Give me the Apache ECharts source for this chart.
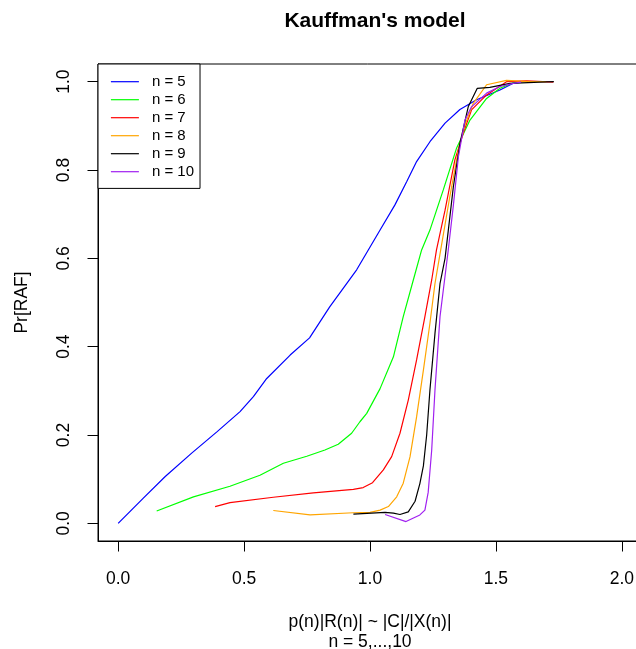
<!DOCTYPE html>
<html>
<head>
<meta charset="utf-8">
<script src="https://cdn.jsdelivr.net/npm/echarts/dist/echarts.min.js"></script>
<style>
  html, body { margin: 0; padding: 0; background: #fff; }
  #main { width: 636px; height: 649px; }
</style>
</head>
<body>
<div id="main"></div>
<script>
// curves, [x, Pr] pairs
var n5 = [[0, 0], [0.1, 0.057], [0.187, 0.106], [0.292, 0.159], [0.392, 0.207], [0.484, 0.253],
    [0.537, 0.287], [0.59, 0.328], [0.683, 0.381], [0.76, 0.42], [0.84, 0.49], [0.947, 0.574],
    [1.04, 0.664], [1.099, 0.721], [1.146, 0.774], [1.185, 0.819], [1.238, 0.864], [1.298, 0.906],
    [1.357, 0.937], [1.423, 0.959], [1.516, 0.981], [1.567, 0.996], [1.6, 0.999]];
var n6 = [[0.153, 0.028], [0.299, 0.06], [0.444, 0.084], [0.563, 0.109], [0.656, 0.136], [0.749, 0.152],
    [0.821, 0.166], [0.874, 0.179], [0.927, 0.204], [0.96, 0.23], [0.987, 0.249], [1.04, 0.305],
    [1.093, 0.377], [1.132, 0.468], [1.172, 0.551], [1.205, 0.619], [1.238, 0.664], [1.291, 0.755],
    [1.344, 0.85], [1.397, 0.913], [1.463, 0.962], [1.516, 0.985], [1.567, 0.997], [1.6, 0.999]];
var n7 = [[0.385, 0.038], [0.444, 0.047], [0.616, 0.059], [0.775, 0.069], [0.934, 0.077], [0.973, 0.081],
    [1.01, 0.092], [1.053, 0.121], [1.086, 0.151], [1.119, 0.204], [1.152, 0.279], [1.185, 0.37],
    [1.218, 0.468], [1.245, 0.551], [1.264, 0.619], [1.298, 0.709], [1.337, 0.823], [1.37, 0.883],
    [1.403, 0.936], [1.463, 0.97], [1.542, 1.0], [1.622, 1.002], [1.728, 0.999]];
var n8 = [[0.616, 0.029], [0.762, 0.019], [0.934, 0.024], [1.0, 0.025], [1.04, 0.03], [1.073, 0.038],
    [1.106, 0.06], [1.132, 0.091], [1.159, 0.151], [1.185, 0.241], [1.212, 0.347], [1.238, 0.453],
    [1.258, 0.543], [1.275, 0.6], [1.317, 0.74], [1.351, 0.845], [1.377, 0.902], [1.41, 0.951],
    [1.463, 0.993], [1.542, 1.003], [1.635, 1.0], [1.7, 1.0]];
var n9 = [[0.934, 0.021], [1.06, 0.025], [1.093, 0.023], [1.119, 0.02], [1.152, 0.026], [1.179, 0.05],
    [1.198, 0.09], [1.212, 0.13], [1.225, 0.2], [1.238, 0.302], [1.258, 0.43], [1.278, 0.543],
    [1.298, 0.6], [1.331, 0.762], [1.357, 0.86], [1.39, 0.943], [1.426, 0.985], [1.476, 0.987],
    [1.556, 0.996], [1.675, 0.999], [1.73, 1.0]];
var n10 = [[1.06, 0.02], [1.143, 0.004], [1.198, 0.019], [1.218, 0.03], [1.231, 0.07], [1.245, 0.166],
    [1.258, 0.302], [1.278, 0.468], [1.298, 0.56], [1.311, 0.62], [1.331, 0.72], [1.351, 0.83],
    [1.377, 0.913], [1.403, 0.943], [1.463, 0.974], [1.516, 0.989], [1.569, 0.996], [1.6, 0.999]];

var seriesNames = ['n = 5', 'n = 6', 'n = 7', 'n = 8', 'n = 9', 'n = 10'];
var seriesColors = ['#0000ff', '#00ff00', '#ff0000', '#ffa500', '#000000', '#a020f0'];
var xTicks = [0, 0.5, 1.0, 1.5, 2.0];
var yTicks = [0, 0.2, 0.4, 0.6, 0.8, 1.0];

var font = 'Liberation Sans, Arial, Helvetica, sans-serif';
var curves = [n5, n6, n7, n8, n9, n10];

var myChart = echarts.init(document.getElementById('main'));
var option = {
    animation: false,
    backgroundColor: '#fff',
    title: {
        text: "Kauffman's model",
        left: 370,
        top: 6,
        textAlign: 'center',
        textStyle: {
            fontFamily: font,
            fontSize: 21,
            fontWeight: 'bold',
            color: '#000'
        }
    },
    legend: {
        data: seriesNames,
        orient: 'vertical',
        left: 98,
        top: 64,
        padding: [10.2, 6, 9.2, 12.3],
        itemWidth: 28,
        itemHeight: 14,
        itemGap: 3,
        borderColor: '#000',
        borderWidth: 1,
        backgroundColor: '#fff',
        itemStyle: { opacity: 0 },   // hide the circle, keep the line
        lineStyle: { width: 1.2 },
        textStyle: {
            fontFamily: font,
            fontSize: 15,
            lineHeight: 14,
            color: '#000',
            padding: [0, 0, 0, 8]
        }
    },
    grid: {
        show: true,
        left: 98,
        top: 64,
        width: 544,
        height: 477,
        outerBoundsMode: 'none',
        borderColor: '#000',
        borderWidth: 1,
        backgroundColor: 'transparent'
    },
    xAxis: {
        type: 'value',
        min: -0.08,
        max: 2.08,
        name: 'p(n)|R(n)| ~ |C|/|X(n)|\nn = 5,...,10',
        nameLocation: 'middle',
        nameGap: 71,
        nameTextStyle: {
            fontFamily: font,
            fontSize: 17.5,
            lineHeight: 20,
            color: '#000'
        },
        splitLine: { show: false },
        axisLine: { show: true, onZero: false, lineStyle: { color: '#000', width: 1 } },
        axisTick: {
            show: true,
            inside: false,
            length: 10.5,
            customValues: xTicks,
            lineStyle: { color: '#000' }
        },
        axisLabel: {
            customValues: xTicks,
            margin: 29,
            fontFamily: font,
            fontSize: 17.5,
            color: '#000',
            formatter: function (v) { return v.toFixed(1); }
        }
    },
    yAxis: {
        type: 'value',
        min: -0.04,
        max: 1.04,
        name: 'Pr[RAF]',
        nameLocation: 'middle',
        nameGap: 67,
        nameTextStyle: {
            fontFamily: font,
            fontSize: 17.5,
            color: '#000'
        },
        splitLine: { show: false },
        axisLine: { show: true, onZero: false, lineStyle: { color: '#000', width: 1 } },
        axisTick: {
            show: true,
            inside: false,
            length: 10.5,
            customValues: yTicks,
            lineStyle: { color: '#000' }
        },
        axisLabel: {
            customValues: yTicks,
            rotate: 90,
            margin: 25,
            fontFamily: font,
            fontSize: 17.5,
            color: '#000',
            formatter: function (v) { return v.toFixed(1); }
        }
    },
    series: curves.map(function (d, i) {
        return {
            name: seriesNames[i],
            type: 'line',
            data: d,
            symbol: 'none',
            smooth: false,
            color: seriesColors[i],
            lineStyle: { color: seriesColors[i], width: 1.2 }
        };
    })
};

myChart.setOption(option);
</script>
</body>
</html>
